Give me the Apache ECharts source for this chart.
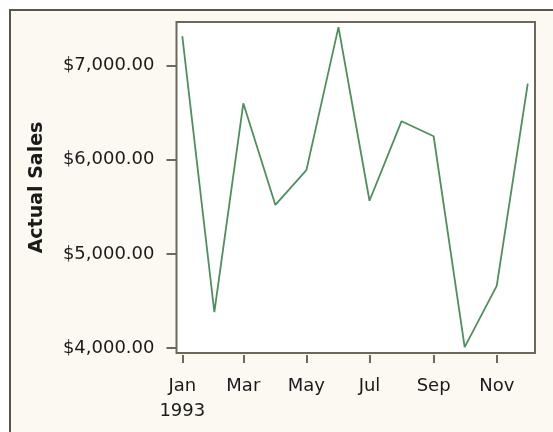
<!DOCTYPE html>
<html>
<head>
<meta charset="utf-8">
<script src="https://cdn.jsdelivr.net/npm/echarts@6/dist/echarts.min.js"></script>
<style>
  html, body { margin: 0; padding: 0; background: #ffffff; }
  #chart { width: 553px; height: 432px; }
</style>
</head>
<body>
<div id="chart"></div>
<script>
// monthly actual sales, 1993
var year = 1993;
var monthNames = ['Jan', 'Feb', 'Mar', 'Apr', 'May', 'Jun', 'Jul', 'Aug', 'Sep', 'Oct', 'Nov', 'Dec'];
var sales = [7315, 4380, 6600, 5520, 5890, 7410, 5565, 6410, 6250, 4010, 4660, 6810];
var yTicks = [4000, 5000, 6000, 7000];
var xTickMonths = [0, 2, 4, 6, 8, 10];

// x is the day of the year, so month spacing follows the calendar
function monthDay(m) { return (Date.UTC(year, m, 1) - Date.UTC(year, 0, 1)) / 86400000; }

var points = sales.map(function(v, i) { return [monthDay(i), v]; });
var xTicks = xTickMonths.map(monthDay);

var font = 'DejaVu Sans';
var frameColor = '#6e685b';

var myChart = echarts.init(document.getElementById('chart'));

var option = {
    backgroundColor: '#ffffff',
    animation: false,
    graphic: [
        {
            type: 'rect',
            z: -10,
            shape: { x: 10, y: 10, width: 700, height: 600 },
            style: { fill: '#fcf9f2', stroke: '#5c5648', lineWidth: 2 }
        }
    ],
    grid: {
        left: 176.5, top: 22, right: 18, bottom: 79,
        show: true,
        backgroundColor: '#ffffff',
        borderColor: frameColor,
        borderWidth: 2,
        outerBoundsMode: 'none'
    },
    xAxis: {
        type: 'value',
        min: -5.6,
        max: monthDay(11) + 7,
        offset: 2,
        splitLine: { show: false },
        axisLine: { show: false, onZero: false },
        axisTick: {
            show: true, length: 8, customValues: xTicks,
            lineStyle: { color: frameColor, width: 2 }
        },
        axisLabel: {
            customValues: xTicks,
            margin: 19,
            color: '#1a1a1a',
            fontFamily: font,
            fontSize: 18,
            lineHeight: 25,
            formatter: function(val) {
                var mi = xTickMonths[xTicks.indexOf(val)];
                return monthNames[mi] + (mi === 0 ? '\n' + year : '');
            }
        }
    },
    yAxis: {
        type: 'value',
        min: 3947,
        max: 7464,
        name: 'Actual Sales',
        nameLocation: 'middle',
        nameRotate: 90,
        nameGap: 130,
        nameTextStyle: { fontFamily: font, fontSize: 19, fontWeight: 'bold', color: '#1a1a1a' },
        splitLine: { show: false },
        axisLine: { show: false, onZero: false },
        axisTick: {
            show: true, length: 10, customValues: yTicks,
            lineStyle: { color: frameColor, width: 2 }
        },
        axisLabel: {
            customValues: yTicks,
            margin: 22,
            color: '#1a1a1a',
            fontFamily: font,
            fontSize: 18,
            formatter: function(v) {
                return '$' + v.toLocaleString('en-US', { minimumFractionDigits: 2, maximumFractionDigits: 2 });
            }
        }
    },
    series: [
        {
            name: 'Actual Sales',
            type: 'line',
            data: points,
            symbol: 'none',
            lineStyle: { color: '#4f8f5e', width: 1.8 }
        }
    ]
};

myChart.setOption(option);
</script>
</body>
</html>
